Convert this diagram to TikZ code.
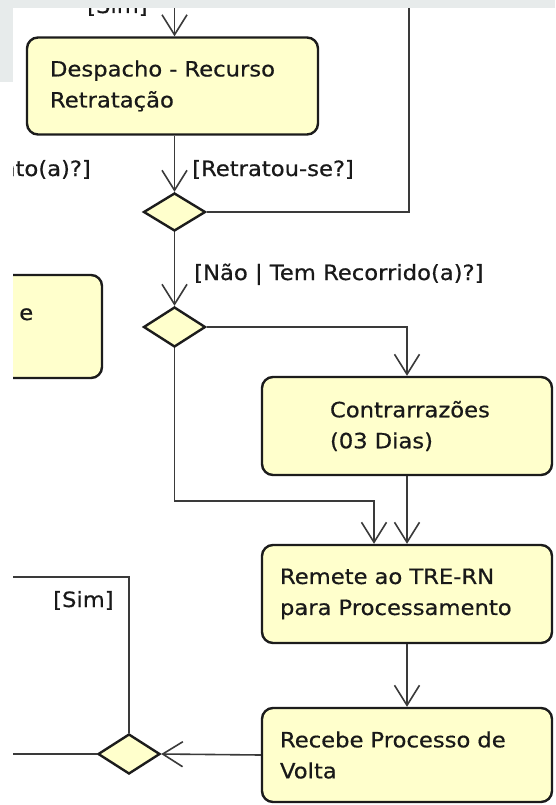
\documentclass[tikz,border=0pt]{standalone}
\usepackage{fontspec}
\setmainfont{DejaVu Sans}[FakeStretch=1.08, FakeBold=0.6]
\usetikzlibrary{arrows.meta,shapes.geometric}

\definecolor{actfill}{HTML}{FFFFCC}
\definecolor{edge}{HTML}{1C1C1C}
\definecolor{wire}{HTML}{3A3A3A}
\definecolor{panel}{HTML}{E7EBEB}

\tikzset{
  x=1pt, y=-1pt,
  every node/.style={font=\fontsize{21}{31}\selectfont, text=black!90},
  act/.style={draw=edge, line width=2.4pt, fill=actfill, rounded corners=11pt,
              inner xsep=0pt, inner ysep=0pt, align=left},
  decision/.style={diamond, draw=edge, line width=2.4pt, fill=actfill,
                   inner sep=0pt, minimum width=62pt, minimum height=38pt},
  flow/.style={draw=wire, line width=1.6pt},
  arrowed/.style={flow, -{Straight Barb[length=20pt,width=25pt]}},
  guard/.style={inner sep=0pt},
}

\begin{document}
\begin{tikzpicture}
\useasboundingbox (0,0) rectangle (555,805);
\fill[white] (0,0) rectangle (555,805);

\begin{scope}
\clip (13,0) rectangle (555,805);

% activities
\node[act, minimum width=291pt, minimum height=97pt, text width=245pt]
  (despacho) at (172.5,86) {Despacho - Recurso\\Retratação};
\node[act, minimum width=290pt, minimum height=98pt, text width=154pt]
  (contra) at (407,426) {Contrarrazões\\(03 Dias)};
\node[act, minimum width=290pt, minimum height=98pt, text width=254pt]
  (remete) at (407,594) {Remete ao TRE-RN\\para Processamento};
\node[act, minimum width=290pt, minimum height=94pt, text width=254pt]
  (recebe) at (407,755) {Recebe Processo de\\Volta};

% activity partly outside the frame on the left
\draw[draw=edge, line width=2.4pt, fill=actfill, rounded corners=11pt]
  (-40,275) rectangle (102,378);
\node[guard, anchor=base west] (lefttext) at (-2,320) {o e};

% decisions
\node[decision] (d1) at (174.5,212) {};
\node[decision, minimum height=40pt] (d2) at (174.5,327) {};
\node[decision, minimum height=40pt] (d3) at (129,754) {};

% free ends of connectors
\coordinate (intop) at (174.5,0);
\coordinate (looptop) at (409,0);
\coordinate (join) at (374,501);
\coordinate (outleft) at (0,754);
\coordinate (simleft) at (0,577);

% connectors
\draw[arrowed] (intop) -- (intop |- despacho.north);
\draw[arrowed] (despacho.south -| d1.north) -- (d1.north);
\draw[flow] (d1.east) -| (looptop);
\draw[arrowed] (d1.south) -- (d2.north);
\draw[arrowed] (d2.east) -| (contra.north);
\draw[arrowed] (d2.south) |- (join) -- (join |- remete.north);
\draw[arrowed] (contra.south) -- (remete.north);
\draw[arrowed] (remete.south) -- (recebe.north);
\draw[arrowed] (recebe.west) -- (d3.east);
\draw[flow] (d3.west) -- (outleft);
\draw[flow] (d3.north) |- (simleft);

% guards
\node[guard, anchor=base west] (gsimtop) at (87,13) {[Sim]};
\node[guard, anchor=base west] (gretr) at (192,176) {[Retratou-se?]};
\node[guard, anchor=base east] (gprov) at (91,176) {nto(a)?]};
\node[guard, anchor=base west] (grec) at (194,280) {[Não | Tem Recorrido(a)?]};
\node[guard, anchor=base west] (gsim) at (53,607) {[Sim]};
\end{scope}

% grey margin panels
\fill[panel] (0,0) rectangle (555,8);
\fill[panel] (0,0) rectangle (13,82);
\end{tikzpicture}
\end{document}
